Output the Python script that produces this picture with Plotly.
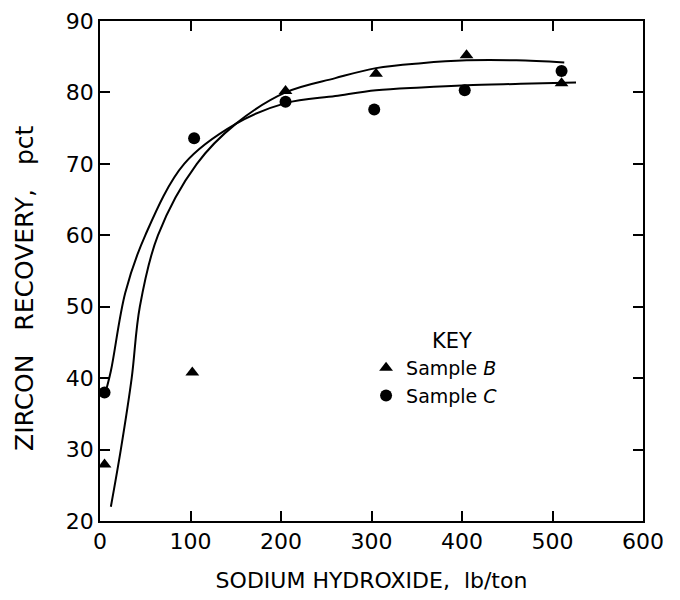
import plotly.graph_objects as go

# Measured points
b_x = [5, 102, 205, 305, 405, 510]
b_y = [27.9, 40.8, 80.2, 82.6, 85.2, 81.3]
c_x = [5, 104, 205, 303, 403, 510]
c_y = [38.0, 73.6, 78.7, 77.6, 80.3, 83.0]

# Fitted curves
curve_b_x = [12, 23, 35, 44, 64, 107, 150, 205, 260, 305, 355, 405, 460, 513]
curve_b_y = [22, 30, 40, 50, 60, 70, 75.6, 80.0, 82.0, 83.4, 84.1, 84.5, 84.5, 84.2]
curve_c_x = [5, 12, 28, 50, 93, 150, 205, 260, 305, 355, 405, 465, 526]
curve_c_y = [37.5, 41, 52, 60, 70, 75.6, 78.5, 79.5, 80.3, 80.7, 81.0, 81.2, 81.4]

x_ticks = [0, 100, 200, 300, 400, 500, 600]
y_ticks = [20, 30, 40, 50, 60, 70, 80, 90]

FONT = "DejaVu Sans"
SP = "\u00a0"

fig = go.Figure()
fig.add_trace(go.Scatter(x=curve_b_x, y=curve_b_y, mode="lines",
                         line=dict(color="black", width=2, shape="spline", smoothing=1.0),
                         showlegend=False, hoverinfo="skip"))
fig.add_trace(go.Scatter(x=curve_c_x, y=curve_c_y, mode="lines",
                         line=dict(color="black", width=2, shape="spline", smoothing=1.0),
                         showlegend=False, hoverinfo="skip"))
fig.add_trace(go.Scatter(x=b_x, y=b_y, mode="markers", name="Sample <i>B</i>",
                         marker=dict(symbol="triangle-up", size=12, color="black")))
fig.add_trace(go.Scatter(x=c_x, y=c_y, mode="markers", name="Sample <i>C</i>",
                         marker=dict(symbol="circle", size=12, color="black")))

axis_common = dict(
    showgrid=False, zeroline=False, showline=True, linecolor="black", linewidth=1.5,
    mirror="ticks", ticks="inside", ticklen=10, tickwidth=1.5, tickcolor="black",
    tickfont=dict(family=FONT, size=22, color="black"), automargin=False,
    ticklabeloverflow="allow",
)

fig.update_layout(
    width=680, height=600,
    margin=dict(l=92, r=45, t=13, b=87),
    paper_bgcolor="white", plot_bgcolor="white",
    font=dict(family=FONT, color="black"),
    xaxis=dict(range=[0, 600], tickvals=x_ticks,
               title=dict(text="SODIUM HYDROXIDE," + SP + SP + "lb/ton",
                          font=dict(family=FONT, size=22), standoff=19),
               **axis_common),
    yaxis=dict(range=[20, 90], tickvals=y_ticks, **axis_common),
    legend=dict(x=0.49, y=0.344, xanchor="left", yanchor="top",
                bgcolor="rgba(0,0,0,0)", borderwidth=0,
                font=dict(family=FONT, size=19, color="black"),
                itemwidth=30, tracegroupgap=0),
    annotations=[
        dict(text="ZIRCON" + SP * 3 + "RECOVERY," + SP * 3 + "pct", textangle=-90,
             xref="paper", yref="paper", x=-0.14, y=0.466,
             xanchor="center", yanchor="middle", showarrow=False,
             font=dict(family=FONT, size=25, color="black")),
        dict(text="KEY", xref="paper", yref="paper", x=0.648, y=0.36,
             xanchor="center", yanchor="middle", showarrow=False,
             font=dict(family=FONT, size=21, color="black")),
    ],
)

fig.write_html("out.html")
